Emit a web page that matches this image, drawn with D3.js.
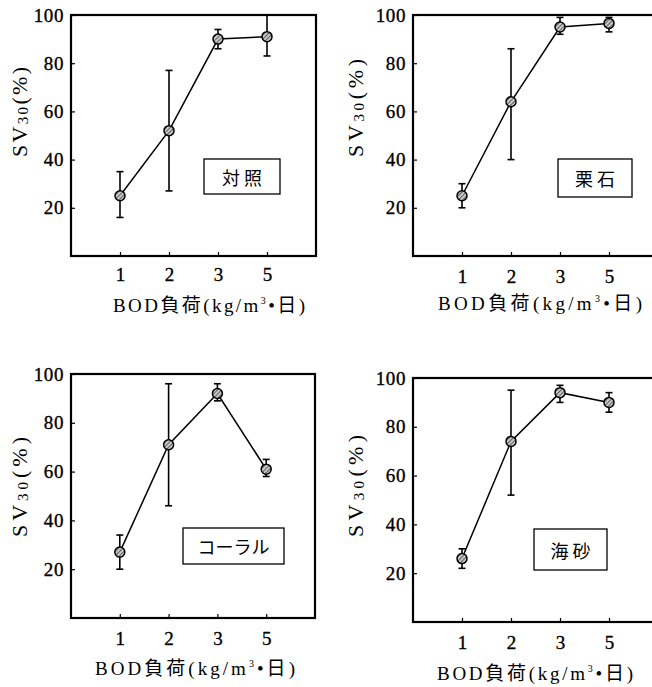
<!DOCTYPE html>
<html><head><meta charset="utf-8">
<script src="https://cdn.jsdelivr.net/npm/d3@7/dist/d3.min.js"></script>
<style>body{margin:0;background:#fff}svg{display:block}</style>
</head><body>
<svg id="c" width="652" height="687"></svg>
<script>
// ---- data ----
const categories = ["1", "2", "3", "5"];
const yTicks = [20, 40, 60, 80, 100];
const panelNames = ["対 照", "栗 石", "コーラル", "海 砂"];

const controlMean = [25, 52, 90, 91];
const controlLow  = [16, 27, 86, 83];
const controlHigh = [35, 77, 94, 100];

const gravelMean = [25, 64, 95, 96.5];
const gravelLow  = [20, 40, 92, 93];
const gravelHigh = [30, 86, 99, 99];

const coralMean = [27, 71, 92, 61];
const coralLow  = [20, 46, 89, 58];
const coralHigh = [34, 96, 96, 65];

const sandMean = [26, 74, 94, 90];
const sandLow  = [22, 52, 90, 86];
const sandHigh = [30, 95, 97, 94];

// ---- layout ----
const panels = [
  {name: panelNames[0], mean: controlMean, low: controlLow, high: controlHigh,
   left: 71, top: 15, w: 245, h: 241, box: [204, 159, 76, 35],
   yt: {x: 20, y0: 67, y1: 157}, xt: {x0: 113, x1: 305, y: 312}, xtick: 18},
  {name: panelNames[1], mean: gravelMean, low: gravelLow, high: gravelHigh,
   left: 413, top: 15, w: 245, h: 241, box: [558, 159, 74, 38],
   yt: {x: 356, y0: 59, y1: 157}, xt: {x0: 438, x1: 642, y: 310}, xtick: 20},
  {name: panelNames[2], mean: coralMean, low: coralLow, high: coralHigh,
   left: 71, top: 374, w: 244, h: 244, box: [183, 528, 101, 36],
   yt: {x: 20, y0: 437, y1: 537}, xt: {x0: 95, x1: 295, y: 675}, xtick: 20},
  {name: panelNames[3], mean: sandMean, low: sandLow, high: sandHigh,
   left: 413, top: 378, w: 245, h: 244, box: [534, 529, 73, 41],
   yt: {x: 356, y0: 435, y1: 537}, xt: {x0: 437, x1: 633, y: 680}, xtick: 20}
];

const svg = d3.select("#c");
const defs = svg.append("defs");
const pat = defs.append("pattern").attr("id", "hatch").attr("patternUnits", "userSpaceOnUse")
  .attr("width", 3).attr("height", 3).attr("patternTransform", "rotate(45)");
pat.append("rect").attr("width", 3).attr("height", 3).attr("fill", "#c8c8c8");
pat.append("line").attr("x1", 0).attr("y1", 0).attr("x2", 0).attr("y2", 3)
  .attr("stroke", "#333").attr("stroke-width", 1.4);

const serif = "'Liberation Serif', 'DejaVu Serif', serif";
const cjk = "'Liberation Serif', 'Noto Sans CJK JP', serif";

panels.forEach(p => {
  const x = d3.scaleLinear().domain([0, 5]).range([p.left, p.left + p.w]);
  const y = d3.scaleLinear().domain([0, 100]).range([p.top + p.h, p.top]);
  const g = svg.append("g");

  // y axis
  const ya = g.append("g").attr("transform", `translate(${p.left},0)`)
    .call(d3.axisLeft(y).tickValues(yTicks).tickSize(-4).tickPadding(7));
  ya.select(".domain").remove();
  ya.selectAll(".tick line").attr("stroke", "#000").attr("stroke-width", 1.2);
  ya.selectAll(".tick text").attr("font-family", serif).attr("font-size", 19)
    .attr("letter-spacing", 0.6)
    .attr("fill", "#000").attr("stroke", "#000").attr("stroke-width", 0.35);

  // x axis
  const xa = g.append("g").attr("transform", `translate(0,${p.top + p.h})`)
    .call(d3.axisBottom(x).tickValues([1, 2, 3, 4]).tickFormat((d, i) => categories[i])
      .tickSize(-4).tickPadding(p.xtick - 6));
  xa.select(".domain").remove();
  xa.selectAll(".tick line").attr("stroke", "#000").attr("stroke-width", 1.2);
  xa.selectAll(".tick text").attr("font-family", serif).attr("font-size", 19)
    .attr("fill", "#000").attr("stroke", "#000").attr("stroke-width", 0.35);

  // frame
  g.append("rect").attr("x", x(0)).attr("y", y(100)).attr("width", x(5) - x(0))
    .attr("height", y(0) - y(100)).attr("fill", "none").attr("stroke", "#000").attr("stroke-width", 2.2);

  // label box
  g.append("rect").attr("x", p.box[0]).attr("y", p.box[1]).attr("width", p.box[2]).attr("height", p.box[3])
    .attr("fill", "#fff").attr("stroke", "#000").attr("stroke-width", 1.3);
  g.append("text").attr("x", p.box[0] + p.box[2] / 2).attr("y", p.box[1] + p.box[3] / 2)
    .attr("text-anchor", "middle").attr("dominant-baseline", "central")
    .attr("font-family", "'Noto Sans CJK JP', sans-serif").attr("font-size", 18).attr("fill", "#000")
    .text(p.name);

  const idx = d3.range(categories.length);
  // error bars
  const eb = g.append("g").attr("stroke", "#000").attr("stroke-width", 1.6);
  idx.forEach(i => {
    eb.append("line").attr("x1", x(i + 1)).attr("x2", x(i + 1)).attr("y1", y(p.low[i])).attr("y2", y(p.high[i]));
    eb.append("line").attr("x1", x(i + 1) - 3.5).attr("x2", x(i + 1) + 3.5).attr("y1", y(p.low[i])).attr("y2", y(p.low[i]));
    eb.append("line").attr("x1", x(i + 1) - 3.5).attr("x2", x(i + 1) + 3.5).attr("y1", y(p.high[i])).attr("y2", y(p.high[i]));
  });
  // line
  g.append("path").datum(idx)
    .attr("d", d3.line().x(i => x(i + 1)).y(i => y(p.mean[i])))
    .attr("fill", "none").attr("stroke", "#000").attr("stroke-width", 1.5);
  // markers
  g.selectAll("circle.m").data(idx).join("circle").attr("class", "m")
    .attr("cx", i => x(i + 1)).attr("cy", i => y(p.mean[i])).attr("r", 5)
    .attr("fill", "url(#hatch)").attr("stroke", "#000").attr("stroke-width", 1.5);

  // y title
  const yc = (p.yt.y0 + p.yt.y1) / 2;
  const yt = g.append("text").attr("transform", `translate(${p.yt.x + 7},${yc}) rotate(-90)`)
    .attr("text-anchor", "middle").attr("font-family", serif).attr("font-size", 22).attr("fill", "#000")
    .attr("textLength", p.yt.y1 - p.yt.y0).attr("lengthAdjust", "spacing");
  yt.append("tspan").text("SV");
  yt.append("tspan").attr("font-size", 15).attr("dy", 1).text("30");
  yt.append("tspan").attr("dy", -1).text("(%)");

  // x title
  const xt = g.append("text").attr("x", p.xt.x0).attr("y", p.xt.y)
    .attr("font-family", cjk).attr("font-size", 19).attr("fill", "#000")
    .attr("textLength", p.xt.x1 - p.xt.x0).attr("lengthAdjust", "spacing");
  xt.append("tspan").text("BOD負荷(kg/m");
  xt.append("tspan").attr("font-size", 10).attr("dy", -8).text("3");
  xt.append("tspan").attr("dy", 8).text("•日)");
});
</script>
</body></html>
